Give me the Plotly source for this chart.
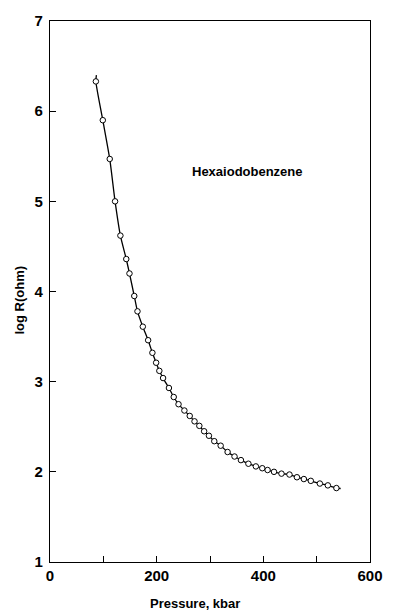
import plotly.graph_objects as go

# Data
pressure_kbar = [86, 99, 112, 122, 132, 143, 149, 158, 164, 174, 184, 192, 199, 205, 212,
                 223, 232, 241, 252, 262, 271, 280, 289, 298, 308, 320, 333, 346, 358, 372,
                 386, 398, 408, 420, 434, 449, 463, 476, 489, 506, 521, 537]
log_r_ohm = [6.33, 5.90, 5.47, 5.00, 4.62, 4.36, 4.20, 3.95, 3.78, 3.61, 3.46, 3.32, 3.21, 3.12, 3.04,
             2.93, 2.83, 2.75, 2.68, 2.62, 2.56, 2.51, 2.45, 2.40, 2.34, 2.29, 2.22, 2.17, 2.13, 2.09,
             2.06, 2.04, 2.02, 2.00, 1.98, 1.97, 1.94, 1.92, 1.90, 1.87, 1.85, 1.82]
# fitted curve end points (line extends slightly past the data)
curve_start = (87, 6.40)
curve_end = (545, 1.815)

x_tickvals = [0, 200, 400, 600]
y_tickvals = [1, 2, 3, 4, 5, 6, 7]

font_family = "Liberation Sans, Arial, sans-serif"

curve_x = [curve_start[0]] + pressure_kbar + [curve_end[0]]
curve_y = [curve_start[1]] + log_r_ohm + [curve_end[1]]

fig = go.Figure()
fig.add_trace(go.Scatter(
    x=curve_x, y=curve_y, mode="lines",
    line=dict(color="black", width=1.3, shape="spline", smoothing=0.6),
    hoverinfo="skip", showlegend=False))
fig.add_trace(go.Scatter(
    x=pressure_kbar, y=log_r_ohm, mode="markers",
    marker=dict(symbol="circle", size=5.5, color="white",
                line=dict(color="black", width=1)),
    showlegend=False))

fig.update_layout(
    width=395, height=613,
    margin=dict(l=50, r=13, t=16, b=51),
    paper_bgcolor="white", plot_bgcolor="white",
    font=dict(family=font_family, color="black"),
    xaxis=dict(range=[0, 600], tickvals=x_tickvals, ticktext=[str(v) for v in x_tickvals],
               ticks="inside", ticklen=6, tickwidth=1, tickcolor="black",
               minor=dict(dtick=100, ticks="inside", ticklen=6, tickwidth=1, tickcolor="black"),
               showline=True, linecolor="black", linewidth=1.3, mirror=True,
               showgrid=False, zeroline=False,
               tickfont=dict(size=15, family=font_family, weight="bold"), ticklabelstandoff=0),
    yaxis=dict(range=[1, 7], tickvals=y_tickvals, ticktext=[str(v) for v in y_tickvals],
               ticks="inside", ticklen=6, tickwidth=1, tickcolor="black",
               showline=True, linecolor="black", linewidth=1.3, mirror=True,
               showgrid=False, zeroline=False,
               tickfont=dict(size=15, family=font_family, weight="bold"), ticklabelstandoff=3),
    annotations=[
        dict(text="<b>Pressure, kbar</b>", xref="paper", yref="paper",
             x=(200 - 50) / 332, y=-(604 - 562) / 546, showarrow=False,
             xanchor="center", yanchor="middle", font=dict(size=13, family=font_family)),
        dict(text="<b>log R(ohm)</b>", xref="paper", yref="paper",
             x=-(50 - 18) / 332, y=(562 - 298) / 546, showarrow=False, textangle=-90,
             xanchor="center", yanchor="middle", font=dict(size=13, family=font_family)),
        dict(text="<b>Hexaiodobenzene</b>", xref="paper", yref="paper",
             x=(255 - 50) / 332, y=(562 - 168) / 546, showarrow=False,
             xanchor="center", yanchor="middle", font=dict(size=13, family=font_family)),
    ],
)

fig.write_html("out.html")
